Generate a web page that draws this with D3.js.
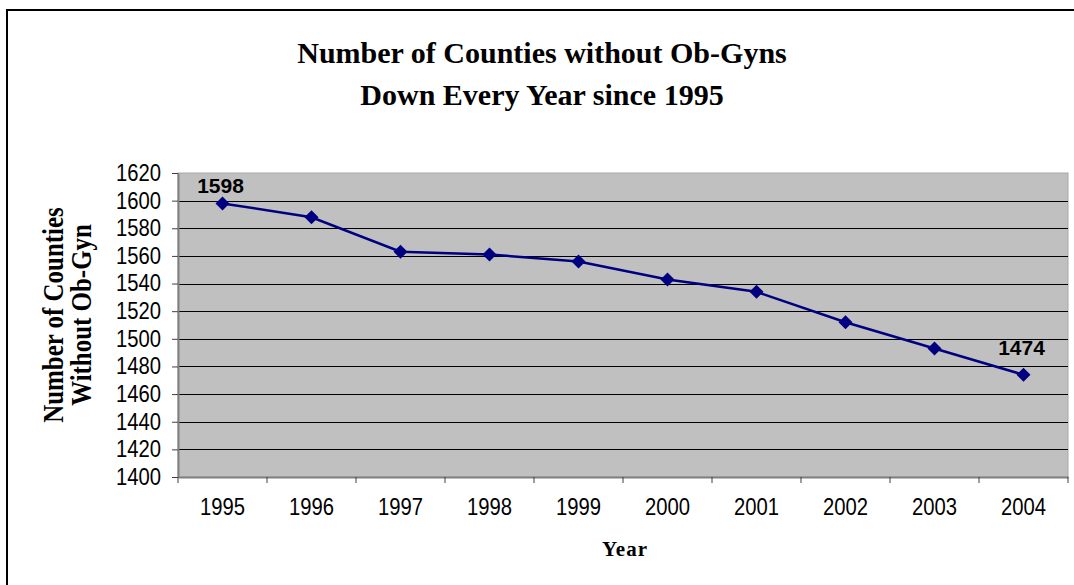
<!DOCTYPE html>
<html>
<head>
<meta charset="utf-8">
<script src="https://cdn.jsdelivr.net/npm/d3@7"></script>
<style>
  body { margin: 0; background: #fff; }
  svg { display: block; }
</style>
</head>
<body>
<div id="chart"></div>
<script>
// chart data
var years = ["1995", "1996", "1997", "1998", "1999", "2000", "2001", "2002", "2003", "2004"];
var counties = [1598, 1588, 1563, 1561, 1556, 1543, 1534, 1512, 1493, 1474];
var labelled = ["1995", "2004"];
var yTicks = [1400, 1420, 1440, 1460, 1480, 1500, 1520, 1540, 1560, 1580, 1600, 1620];
var titleLines = ["Number of Counties without Ob-Gyns", "Down Every Year since 1995"];
var yTitleLines = ["Number of Counties", "Without Ob-Gyn"];

var W = 1074, H = 585;
var margin = {top: 173, right: 6, bottom: 108, left: 178},
    width = W - margin.left - margin.right,
    height = H - margin.top - margin.bottom;

// tick text in the original is a bit condensed
var squeeze = 0.88;

var svg = d3.select("#chart")
  .append("svg")
    .attr("width", W)
    .attr("height", H);

// outer chart border (runs past the window on right / bottom)
svg.append("rect")
  .attr("x", 7).attr("y", 10)
  .attr("width", 1090).attr("height", 600)
  .attr("fill", "none")
  .attr("stroke", "#000")
  .attr("stroke-width", 2);

// title
svg.append("text")
  .attr("x", 542)
  .attr("y", 63)
  .attr("text-anchor", "middle")
  .style("font-family", "'Liberation Serif', 'Times New Roman', serif")
  .style("font-weight", "bold")
  .style("font-size", "30px")
  .selectAll("tspan")
  .data(titleLines)
  .enter().append("tspan")
    .attr("x", 542)
    .attr("dy", function(d, i) { return i ? 42 : 0; })
    .text(function(d) { return d; });

var g = svg.append("g")
  .attr("transform", "translate(" + margin.left + "," + margin.top + ")");

var x = d3.scaleBand()
  .domain(years)
  .range([0, width]);

var y = d3.scaleLinear()
  .domain([1400, 1620])
  .range([height, 0]);

// plot area
g.append("rect")
  .attr("width", width)
  .attr("height", height)
  .attr("fill", "#c0c0c0")
  .attr("stroke", "#a8a8a8")
  .attr("stroke-width", 1);

// gridlines
g.append("g")
  .selectAll("line")
  .data(yTicks.filter(function(d) { return d > 1400 && d < 1620; }))
  .enter().append("line")
    .attr("x1", 0).attr("x2", width)
    .attr("y1", function(d) { return Math.round(y(d)) + 0.5; })
    .attr("y2", function(d) { return Math.round(y(d)) + 0.5; })
    .attr("stroke", "#000")
    .attr("stroke-width", 1);

// y axis
var yAxis = g.append("g")
  .call(d3.axisLeft(y).tickValues(yTicks).tickFormat(d3.format("d"))
    .tickSize(6).tickPadding(11).tickSizeOuter(0));
yAxis.select(".domain").attr("stroke", "#808080").attr("stroke-width", 2);
yAxis.selectAll(".tick line").attr("stroke", "#404040");
yAxis.selectAll("text")
  .attr("x", -17 / squeeze)
  .attr("transform", "scale(" + squeeze + ",1)")
  .style("font-family", "'Liberation Sans', Arial, sans-serif")
  .style("font-size", "23px")
  .attr("fill", "#000");

// x axis: labels centred in bands, ticks on band edges
var xAxis = g.append("g")
  .attr("transform", "translate(0," + height + ")")
  .call(d3.axisBottom(x).tickSize(0).tickPadding(22).tickSizeOuter(0));
xAxis.select(".domain").attr("stroke", "#808080").attr("stroke-width", 2);
xAxis.selectAll("text")
  .attr("transform", "scale(" + squeeze + ",1)")
  .style("font-family", "'Liberation Sans', Arial, sans-serif")
  .style("font-size", "23px")
  .attr("fill", "#000");
xAxis.selectAll(".edge")
  .data(years.concat(["end"]))
  .enter().append("line")
    .attr("class", "edge")
    .attr("x1", function(d) { return d === "end" ? width : x(d); })
    .attr("x2", function(d) { return d === "end" ? width : x(d); })
    .attr("y1", 0).attr("y2", 6)
    .attr("stroke", "#404040");

// series line
var line = d3.line()
  .x(function(d, i) { return x(years[i]) + x.bandwidth() / 2; })
  .y(function(d) { return y(d); });

g.append("path")
  .datum(counties)
  .attr("fill", "none")
  .attr("stroke", "#000080")
  .attr("stroke-width", 2.5)
  .attr("d", line);

// diamond markers
g.selectAll(".marker")
  .data(counties)
  .enter().append("path")
    .attr("class", "marker")
    .attr("d", "M0,-7L7,0L0,7L-7,0Z")
    .attr("fill", "#000080")
    .attr("transform", function(d, i) {
      return "translate(" + (x(years[i]) + x.bandwidth() / 2) + "," + y(d) + ")";
    });

// data labels on first and last point
g.selectAll(".dlabel")
  .data(counties.map(function(d, i) { return {year: years[i], value: d}; })
    .filter(function(d) { return labelled.indexOf(d.year) >= 0; }))
  .enter().append("text")
    .attr("class", "dlabel")
    .attr("x", function(d) { return x(d.year) + x.bandwidth() / 2 - 2; })
    .attr("y", function(d) { return Math.max(y(d.value) - 20, 20); })
    .attr("text-anchor", "middle")
    .style("font-family", "'Liberation Sans', Arial, sans-serif")
    .style("font-weight", "bold")
    .style("font-size", "21px")
    .text(function(d) { return d.value; });

// axis titles
svg.append("text")
  .attr("x", 625)
  .attr("y", 556)
  .attr("text-anchor", "middle")
  .style("font-family", "'Liberation Serif', 'Times New Roman', serif")
  .style("font-weight", "bold")
  .style("font-size", "21px")
  .style("letter-spacing", "1px")
  .text("Year");

svg.append("text")
  .attr("transform", "translate(63,315) rotate(-90) scale(0.86,1)")
  .attr("text-anchor", "middle")
  .style("font-family", "'Liberation Serif', 'Times New Roman', serif")
  .style("font-weight", "bold")
  .style("font-size", "29px")
  .selectAll("tspan")
  .data(yTitleLines)
  .enter().append("tspan")
    .attr("x", 0)
    .attr("dy", function(d, i) { return i ? 28 : 0; })
    .text(function(d) { return d; });
</script>
</body>
</html>
